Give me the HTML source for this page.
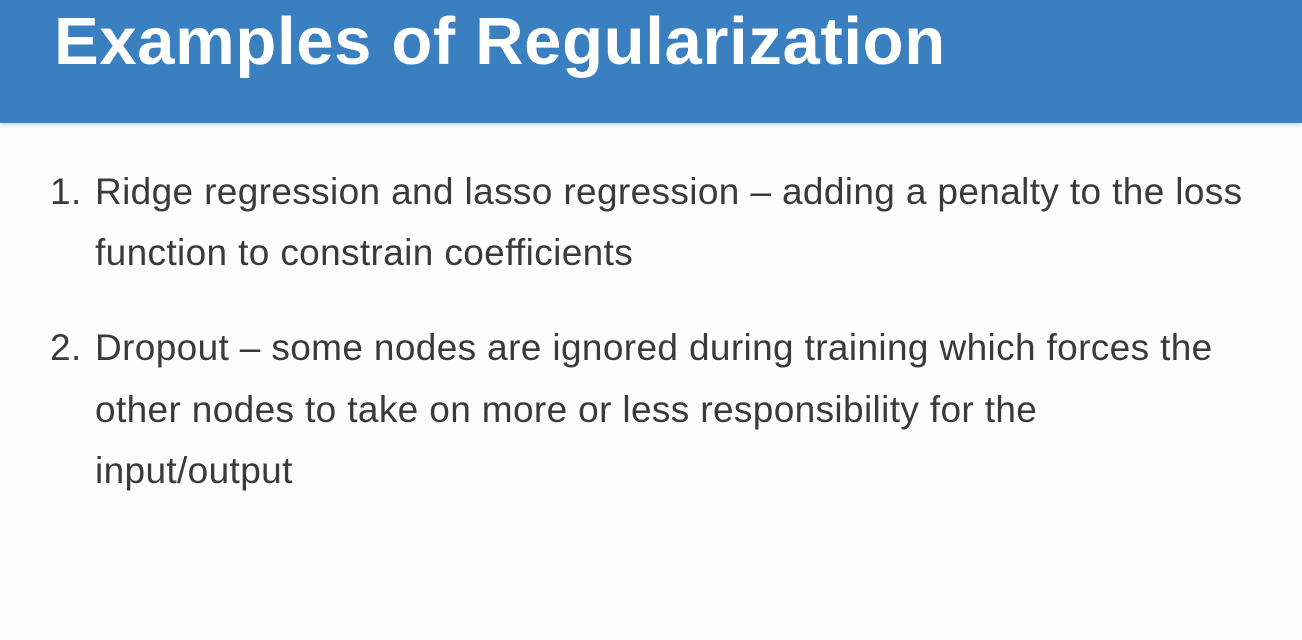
<!DOCTYPE html>
<html>
<head>
<meta charset="utf-8">
<style>
  html, body { margin:0; padding:0; }
  body { width:1302px; height:640px; overflow:hidden; background:#fdfdfd; position:relative;
         font-family:"Liberation Sans", sans-serif; }
  .header { position:absolute; left:0; top:0; width:1302px; height:123px; background:#3a7fbf;
            box-shadow:0 2px 4px rgba(0,0,0,0.15); }
  .title { position:absolute; left:54px; top:2px; font-size:67px; font-weight:bold; color:#ffffff;
           white-space:nowrap; line-height:80px; letter-spacing:0.65px; }
  .line { position:absolute; font-size:37px; color:#3a3a3a; white-space:nowrap; line-height:40px; letter-spacing:0.36px; }
  .num { left:50px; }
  .txt { left:95px; }
</style>
</head>
<body>
  <div class="header">
    <div class="title">Examples of Regularization</div>
  </div>
  <div>
    <div class="line num" style="top:172px">1.</div>
    <div class="line txt" style="top:172px">Ridge regression and lasso regression – adding a penalty to the loss</div>
    <div class="line txt" style="top:233px">function to constrain coefficients</div>
  </div>
  <div>
    <div class="line num" style="top:328px">2.</div>
    <div class="line txt" style="top:328px">Dropout – some nodes are ignored during training which forces the</div>
    <div class="line txt" style="top:390px">other nodes to take on more or less responsibility for the</div>
    <div class="line txt" style="top:451px">input/output</div>
  </div>
</body>
</html>
